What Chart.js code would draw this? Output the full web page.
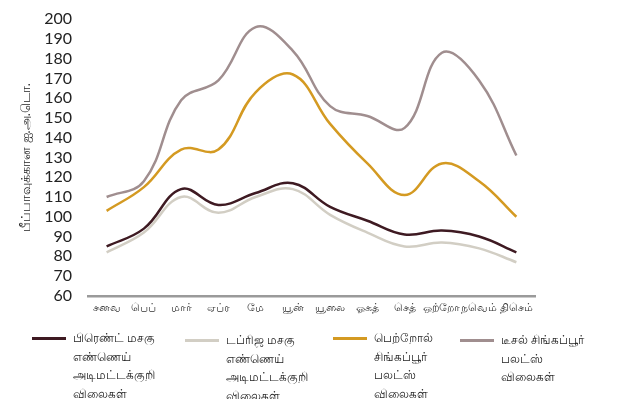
<!DOCTYPE html>
<html>
<head>
<meta charset="utf-8">
<script src="https://cdn.jsdelivr.net/npm/chart.js@4"></script>
<style>
  body { margin: 0; background: #fff; font-family: Lato, "Noto Sans", sans-serif; }
  #wrap { position: relative; width: 641px; height: 399px; }
  #box { position: absolute; left: 0; top: 0; width: 641px; height: 319px; }
  #legend { position: absolute; left: 0; top: 0; width: 641px; height: 399px; pointer-events: none; }
  .swatch { position: absolute; height: 3px; width: 34px; }
  .txt { position: absolute; font-size: 12px; line-height: 18.5px; color: #222; white-space: nowrap; }
</style>
</head>
<body>
<div id="wrap">
  <div id="box"><canvas id="chart"></canvas></div>
  <div id="legend"></div>
</div>
<script>
"use strict";

// months on the x axis
const months = ['சனவ', 'பெப்', 'மார்', 'ஏப்ர', 'மே', 'யூன்', 'யூலை', 'ஓகத்', 'செத்', 'ஒற்றோ', 'நவெம்', 'திசெம்'];

// series values (USD per barrel)
const brent  = [85, 94, 114, 106, 112, 117, 105, 98, 91, 93, 90, 82];
const dubai  = [82, 92, 110, 102, 110, 114, 101, 92, 85, 87, 84, 77];
const petrol = [103, 115, 134, 134, 163, 172, 147, 127, 111, 127, 118, 100];
const diesel = [110, 118, 159, 169, 196, 184, 156, 151, 145, 183, 169, 131];

// y ticks
const yMin = 60, yMax = 200, yStep = 10;
const yTitle = 'பீப்பாவுக்கான ஐ.அ.டொ.';

// legend labels, one line per entry
const brentLabel  = ['பிரெண்ட் மசகு', 'எண்ணெய்', 'அடிமட்டக்குறி', 'விலைகள்'];
const dubaiLabel  = ['டப்ரிஜ மசகு', 'எண்ணெய்', 'அடிமட்டக்குறி', 'விலைகள்'];
const petrolLabel = ['பெற்றோல்', 'சிங்கப்பூர்', 'பலட்ஸ்', 'விலைகள்'];
const dieselLabel = ['டீசல் சிங்கப்பூர்', 'பலட்ஸ்', 'விலைகள்'];

function line(label, data, color) {
  return {
    label: label,
    data: data,
    borderColor: color,
    backgroundColor: color,
    borderWidth: 2.5,
    pointRadius: 0,
    tension: 0.4,
    fill: false
  };
}

const chart = new Chart(document.getElementById('chart'), {
  type: 'line',
  data: {
    labels: months,
    datasets: [
      line(brentLabel, brent, '#3e1a22'),
      line(dubaiLabel, dubai, '#d2cec4'),
      line(petrolLabel, petrol, '#d49a22'),
      line(dieselLabel, diesel, '#a08e8f')
    ]
  },
  options: {
    responsive: true,
    maintainAspectRatio: false,
    animation: false,
    layout: { padding: { top: 0, right: 106, bottom: 0, left: 0 } },
    plugins: {
      legend: { display: false },
      tooltip: { enabled: false }
    },
    scales: {
      x: {
        offset: true,
        grid: { display: false, drawTicks: false },
        border: { display: true, color: '#9a9a9a', width: 2.5 },
        ticks: {
          color: '#333',
          padding: 5,
          maxRotation: 0,
          autoSkip: false,
          font: { family: 'Lato, "Noto Sans", sans-serif', size: 11 }
        }
      },
      y: {
        min: yMin,
        max: yMax,
        grid: { display: false, drawTicks: false },
        border: { display: false },
        afterFit: (s) => { s.width = 88; },
        ticks: {
          stepSize: yStep,
          autoSkip: false,
          color: '#222',
          padding: 16,
          // small line height keeps the top label from pushing the plot down
          font: { family: 'Lato, "Noto Sans", sans-serif', size: 16, lineHeight: 0.4 }
        },
        title: {
          display: true,
          text: yTitle,
          color: '#222',
          padding: { top: 18, bottom: 0 },
          font: { family: 'Lato, "Noto Sans", sans-serif', size: 13 }
        }
      }
    }
  }
});

// html legend built from the datasets, with the wrapped lines
const legendX = [32, 185, 333, 460];
const legendY = [338, 340, 338, 340];
const legend = document.getElementById('legend');
chart.data.datasets.forEach((ds, i) => {
  const sw = document.createElement('div');
  sw.className = 'swatch';
  sw.style.left = legendX[i] + 'px';
  sw.style.top = (legendY[i] - 1) + 'px';
  sw.style.background = ds.borderColor;
  legend.appendChild(sw);

  const t = document.createElement('div');
  t.className = 'txt';
  t.style.left = (legendX[i] + 41) + 'px';
  t.style.top = (legendY[i] - 9) + 'px';
  t.innerHTML = ds.label.join('<br>');
  legend.appendChild(t);
});
</script>
</body>
</html>
